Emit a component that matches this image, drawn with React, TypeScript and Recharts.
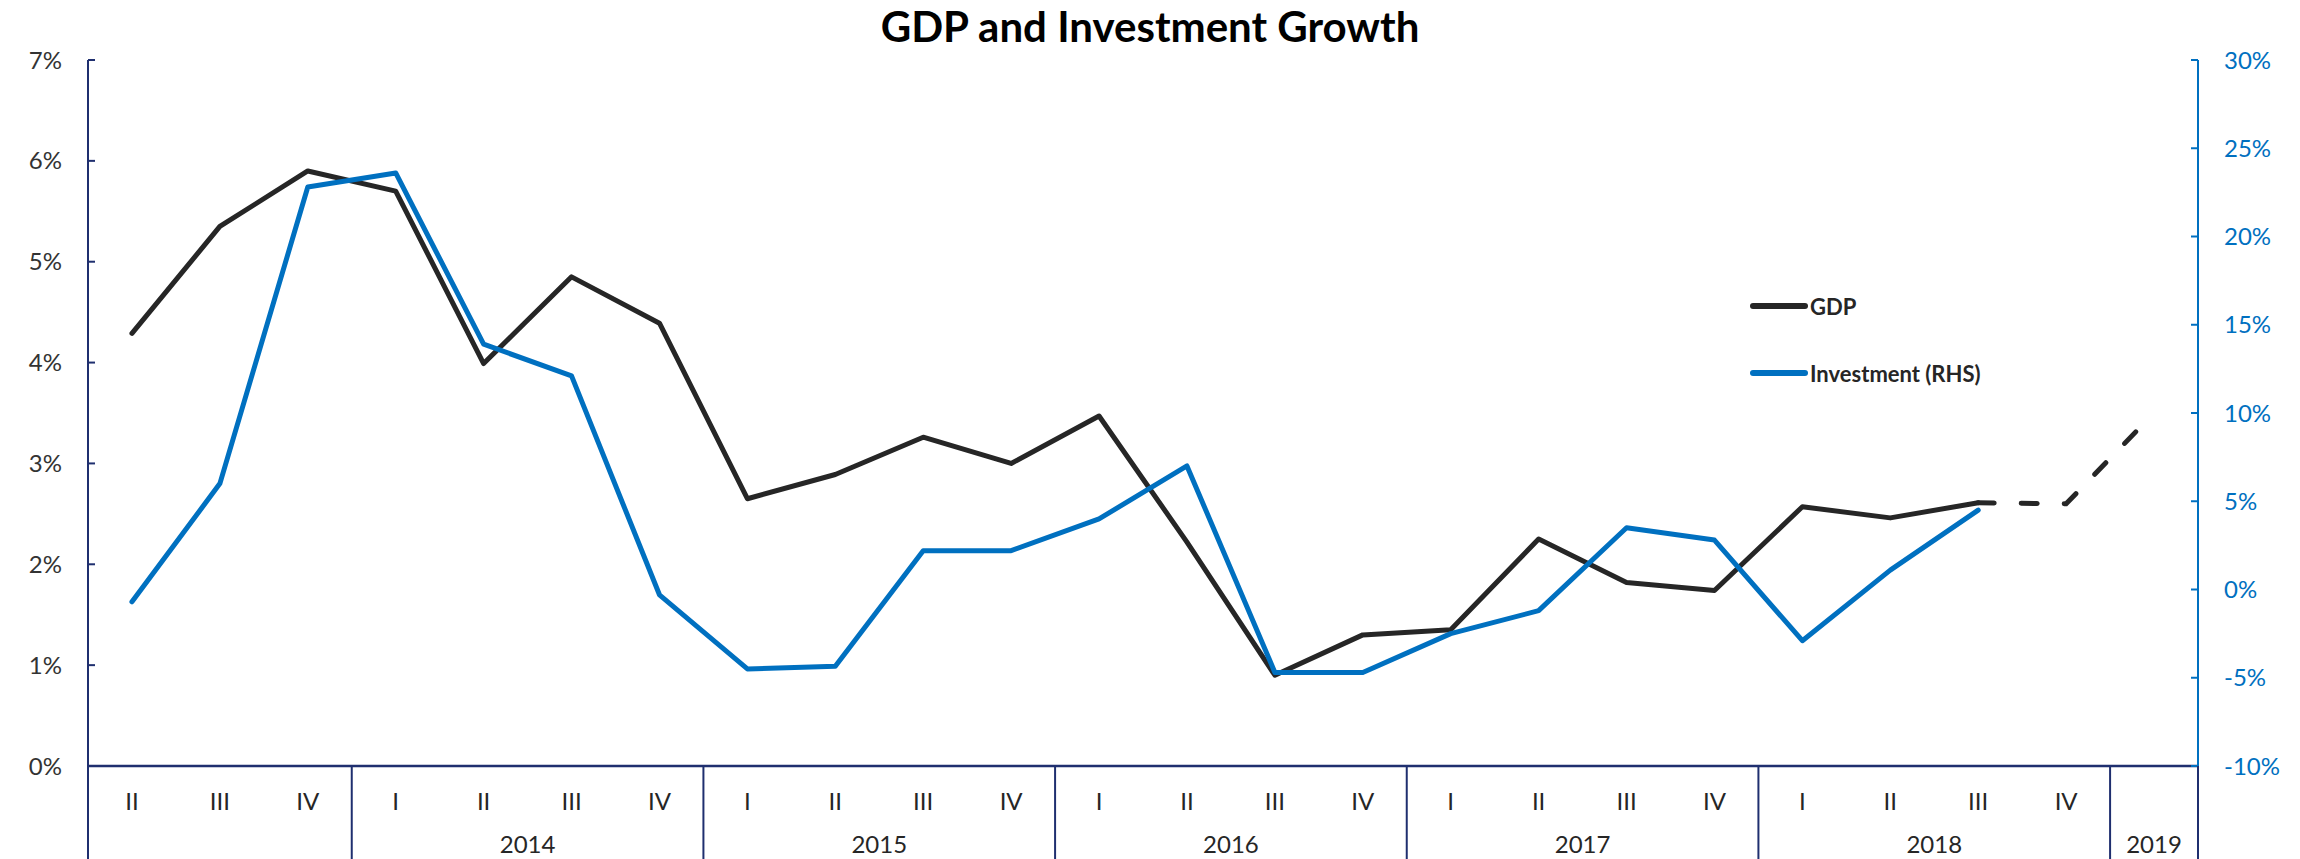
import { LineChart, Line, XAxis, YAxis, Legend } from 'recharts';

// quarters (2013 Q2 .. 2019), year groups under them
const quarters = ['II', 'III', 'IV', 'I', 'II', 'III', 'IV', 'I', 'II', 'III', 'IV', 'I', 'II', 'III', 'IV', 'I', 'II', 'III', 'IV', 'I', 'II', 'III', 'IV', ''];
const yearNames = ['', '2014', '2015', '2016', '2017', '2018', '2019'];
const yearSpans = [3, 4, 4, 4, 4, 4, 1];

const gdp = [4.29, 5.35, 5.9, 5.7, 3.99, 4.85, 4.39, 2.65, 2.89, 3.26, 3.0, 3.47, 2.22, 0.9, 1.3, 1.35, 2.25, 1.82, 1.74, 2.57, 2.46, 2.61, null, null];
const gdpForecast = [null, null, null, null, null, null, null, null, null, null, null, null, null, null, null, null, null, null, null, null, null, 2.61, 2.6, 3.5];
const investment = [-0.7, 6.0, 22.8, 23.6, 13.9, 12.1, -0.3, -4.5, -4.35, 2.2, 2.2, 4.0, 7.0, -4.7, -4.7, -2.5, -1.2, 3.5, 2.8, -2.9, 1.1, 4.5, null, null];

const gdpTicks = [0, 1, 2, 3, 4, 5, 6, 7];
const invTicks = [-10, -5, 0, 5, 10, 15, 20, 25, 30];

const FONT = 'Lato, "Open Sans", sans-serif';
const NAVY = '#1F2F6F';
const BLUE = '#0070C0';
const DARK = '#262626';

const groupOf: number[] = [];
const groupStart: boolean[] = [];
yearSpans.forEach((span, g) => {
  for (let k = 0; k < span; k++) {
    groupOf.push(g);
    groupStart.push(k === 0);
  }
});

const rows = quarters.map((q, i) => ({
  key: `${i}-${q}`,
  q,
  gdp: gdp[i],
  gdpForecast: gdpForecast[i],
  investment: investment[i],
}));

const XTick = (props: any) => {
  const { x, y, payload, height } = props;
  const i = payload.index ?? props.index;
  const half = payload.offset || props.width / rows.length / 2;
  const g = groupOf[i];
  const last = i === rows.length - 1;
  return (
    <g>
      <text x={x} y={y + 34} textAnchor="middle" dominantBaseline="central" fill={DARK} fontSize={24} fontFamily={FONT}>
        {rows[i].q}
      </text>
      {groupStart[i] && (
        <line x1={x - half} x2={x - half} y1={y} y2={y + height} stroke={NAVY} strokeWidth={2} />
      )}
      {last && <line x1={x + half} x2={x + half} y1={y} y2={y + height} stroke={NAVY} strokeWidth={2} />}
      {groupStart[i] && yearNames[g] && (
        <text x={x + (yearSpans[g] - 1) * half} y={y + 77} textAnchor="middle" dominantBaseline="central" fill={DARK} fontSize={24} fontFamily={FONT}>
          {yearNames[g]}
        </text>
      )}
    </g>
  );
};

const renderLegend = (props: any) => {
  const items = (props.payload || []).filter((p: any) => p.type !== 'none');
  return (
    <div style={{ display: 'flex', flexDirection: 'column', gap: 37 }}>
      {items.map((it: any) => (
        <div key={it.value} style={{ display: 'flex', alignItems: 'center', height: 30 }}>
          <svg width={58} height={10}>
            <line x1={3} y1={5} x2={55} y2={5} stroke={it.color} strokeWidth={6} strokeLinecap="round" />
          </svg>
          <span style={{ fontFamily: FONT, fontWeight: 700, fontSize: 22, color: DARK, marginLeft: 2 }}>{it.value}</span>
        </div>
      ))}
    </div>
  );
};

export default function App() {
  return (
    <div style={{ position: 'relative', width: 2300, height: 859, background: '#fff' }}>
      <style>{'body{margin:0}'}</style>
      <div
        style={{
          position: 'absolute',
          top: 5,
          left: 0,
          width: 2300,
          textAlign: 'center',
          fontFamily: FONT,
          fontWeight: 700,
          fontSize: 42,
          lineHeight: '42px',
          color: '#000',
        }}
      >
        GDP and Investment Growth
      </div>
      <LineChart width={2300} height={859} data={rows} margin={{ top: 60, right: 0, bottom: 0, left: 0 }}>
        <XAxis
          dataKey="key"
          xAxisId="x"
          scale="band"
          interval={0}
          height={93}
          tickSize={0}
          tickMargin={0}
          tickLine={false}
          axisLine={{ stroke: NAVY, strokeWidth: 2.5 }}
          tick={<XTick />}
        />
        <YAxis
          yAxisId="left"
          domain={[0, 7]}
          ticks={gdpTicks}
          width={88}
          tickSize={-7}
          tickMargin={33}
          axisLine={{ stroke: NAVY, strokeWidth: 2 }}
          tickLine={{ stroke: NAVY, strokeWidth: 2 }}
          tick={{ fill: '#333', fontSize: 24, fontFamily: FONT }}
          tickFormatter={(v: number) => `${v}%`}
        />
        <YAxis
          yAxisId="right"
          orientation="right"
          domain={[-10, 30]}
          ticks={invTicks}
          width={102}
          tickSize={-7}
          tickMargin={33}
          axisLine={{ stroke: BLUE, strokeWidth: 2 }}
          tickLine={{ stroke: BLUE, strokeWidth: 2 }}
          tick={{ fill: BLUE, fontSize: 24, fontFamily: FONT }}
          tickFormatter={(v: number) => `${v}%`}
        />
        <Legend
          layout="vertical"
          align="center"
          verticalAlign="middle"
          content={renderLegend}
          wrapperStyle={{ left: 1750, top: 291, width: 500, height: 'auto' }}
        />
        <Line
          xAxisId="x"
          yAxisId="left"
          name="GDP"
          dataKey="gdp"
          type="linear"
          stroke={DARK}
          strokeWidth={5}
          strokeLinejoin="round"
          strokeLinecap="round"
          dot={false}
          activeDot={false}
          isAnimationActive={false}
        />
        <Line
          xAxisId="x"
          yAxisId="left"
          name="GDP forecast"
          dataKey="gdpForecast"
          type="linear"
          stroke={DARK}
          strokeWidth={5}
          strokeDasharray="16 27"
          strokeLinecap="round"
          legendType="none"
          dot={false}
          activeDot={false}
          isAnimationActive={false}
        />
        <Line
          xAxisId="x"
          yAxisId="right"
          name="Investment (RHS)"
          dataKey="investment"
          type="linear"
          stroke={BLUE}
          strokeWidth={5}
          strokeLinejoin="round"
          strokeLinecap="round"
          dot={false}
          activeDot={false}
          isAnimationActive={false}
        />
      </LineChart>
    </div>
  );
}
